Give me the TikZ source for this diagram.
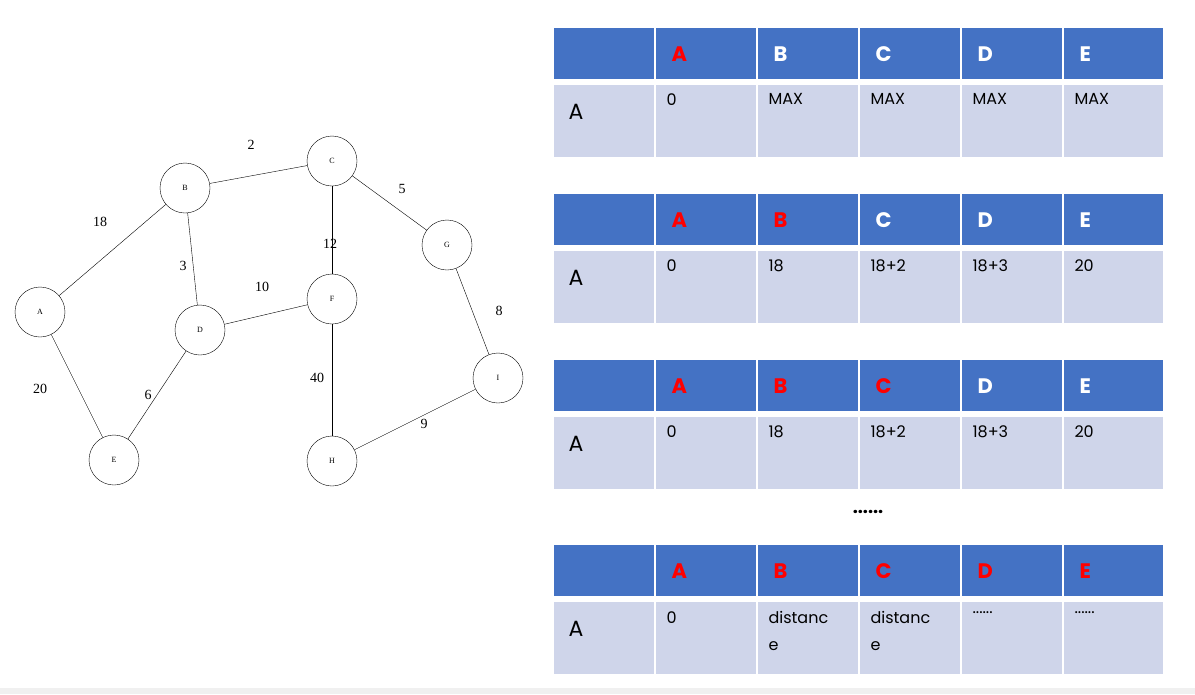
\documentclass[tikz,border=0pt]{standalone}
\usepackage{fontspec}
\setmainfont{Liberation Serif}
\newfontfamily\gothic{Poppins}
\definecolor{hdr}{HTML}{4472C4}
\definecolor{bdy}{HTML}{CFD5EA}
\begin{document}
\begin{tikzpicture}[x=1pt,y=-1pt,
  vtx/.style={circle,draw,fill=white,minimum size=50pt,inner sep=0pt,font=\fontsize{8}{9}\selectfont},
  elab/.style={font=\fontsize{14}{16}\selectfont},
  hcell/.style={fill=hdr},
  bcell/.style={fill=bdy},
  htxt/.style={anchor=west,font=\gothic\bfseries\fontsize{21}{24}\selectfont,text=white},
  btxt/.style={anchor=north west,align=left,font=\gothic\fontsize{16}{27}\selectfont}]
\useasboundingbox (0,0) rectangle (1195,694);
\fill[white] (0,0) rectangle (1195,694);
\fill[black!6] (0,688) rectangle (1195,694);
% graph
\node[vtx] (A) at (40,312) {A};
\node[vtx] (B) at (185,188) {B};
\node[vtx] (C) at (332,161) {C};
\node[vtx] (D) at (200,330) {D};
\node[vtx] (E) at (114,460) {E};
\node[vtx] (F) at (332,299) {F};
\node[vtx] (G) at (447,245) {G};
\node[vtx] (H) at (332,461) {H};
\node[vtx] (I) at (498,378) {I};
\draw (A)--(B); \draw (B)--(C); \draw (C)--(G); \draw (B)--(D); \draw (C)--(F);
\draw (D)--(F); \draw (G)--(I); \draw (A)--(E); \draw (D)--(E); \draw (F)--(H); \draw (H)--(I);
\node[elab] (l1) at (100,222) {18};
\node[elab] (l2) at (251,145) {2};
\node[elab] (l3) at (402,189) {5};
\node[elab] (l4) at (183,266) {3};
\node[elab] (l5) at (330,244) {12};
\node[elab] (l6) at (262,287) {10};
\node[elab] (l7) at (499,311) {8};
\node[elab] (l8) at (40,389) {20};
\node[elab] (l9) at (148,395) {6};
\node[elab] (l10) at (317,378) {40};
\node[elab] (l11) at (424,424) {9};
% tables
\def\xs{{553,655,757,859,961,1063,1164}}
\foreach \ty/\cols/\bodyA/\bodyB/\bodyC/\bodyD/\bodyE in {
  28/{white,red,white,white,white,white}/0/MAX/MAX/MAX/MAX,
  194/{white,red,red,white,white,white}/0/18/18+2/18+3/20,
  360/{white,red,red,red,white,white}/0/18/18+2/18+3/20,
  545/{white,red,red,red,red,red}/0/{distanc\\e}/{distanc\\e}/{distanc\\e}/{\textbf{……}}}{
  \foreach \i in {0,...,5}{
    \pgfmathsetmacro{\xa}{\xs[\i]+1}
    \pgfmathsetmacro{\xb}{\xs[\i+1]-1}
    \fill[hdr] (\xa,\ty) rectangle (\xb,\ty+51);
    \fill[bdy] (\xa,\ty+57) rectangle (\xb,\ty+129);
  }
}
% header letters
\foreach \ty/\ca/\cb/\cc/\cd/\ce in {28/red/white/white/white/white,194/red/red/white/white/white,360/red/red/red/white/white,545/red/red/red/red/red}{
  \node[htxt,text=\ca] (ha\ty) at (668,\ty+26) {A};
  \node[htxt,text=\cb] (hb\ty) at (770,\ty+26) {B};
  \node[htxt,text=\cc] (hc\ty) at (872,\ty+26) {C};
  \node[htxt,text=\cd] (hd\ty) at (974,\ty+26) {D};
  \node[htxt,text=\ce] (he\ty) at (1076,\ty+26) {E};
  \node[anchor=west,font=\gothic\fontsize{22}{24}\selectfont] (ra\ty) at (565,\ty+84) {A};
}
\node[btxt] (t1a) at (663,90) {0};
\node[btxt] (t1b) at (765,90) {MAX};
\node[btxt] (t1c) at (867,90) {MAX};
\node[btxt] (t1d) at (969,90) {MAX};
\node[btxt] (t1e) at (1071,90) {MAX};
\foreach \ty in {256,422}{
\node[btxt] at (663,\ty) {0};
\node[btxt] at (765,\ty) {18};
\node[btxt] at (867,\ty) {18+2};
\node[btxt] at (969,\ty) {18+3};
\node[btxt] at (1071,\ty) {20};
}
\node[btxt] (t4a) at (663,608) {0};
\node[btxt] (t4b) at (765,608) {distanc\\e};
\node[btxt] (t4c) at (867,608) {distanc\\e};
\node[btxt] (t4d) at (969,608) {......};
\node[btxt] (t4e) at (1071,608) {......};
\node[font=\gothic\bfseries\fontsize{18}{20}\selectfont] (dots) at (868,512) {......};
\end{tikzpicture}
\end{document}
